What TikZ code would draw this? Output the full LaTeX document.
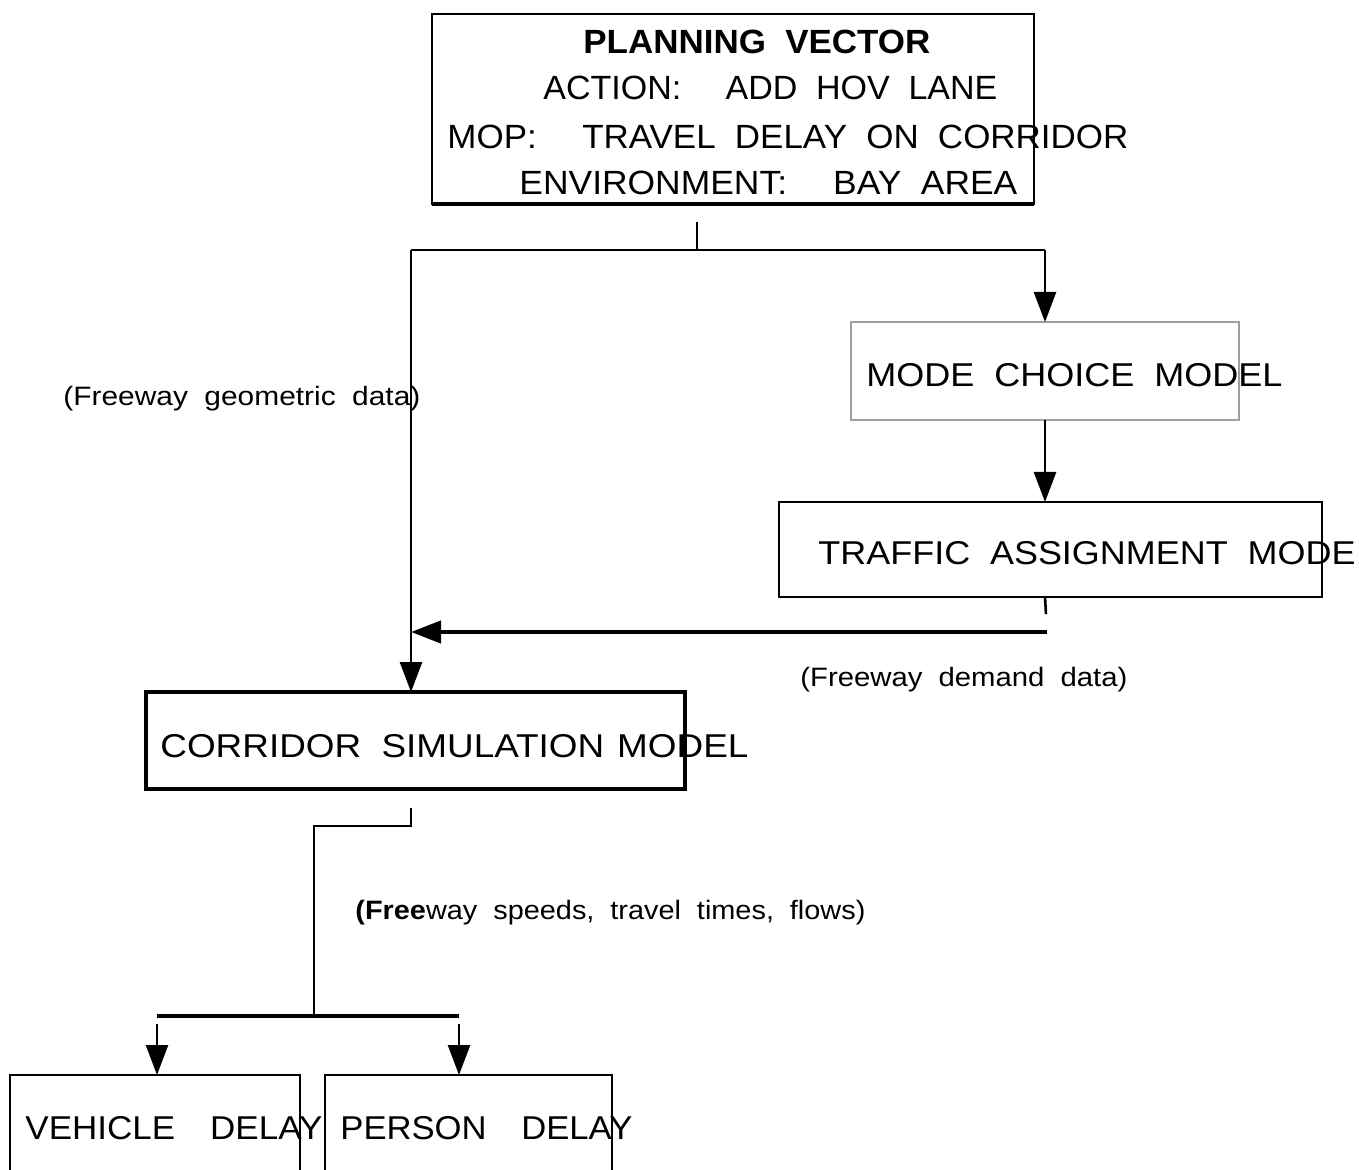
\documentclass[tikz,border=0pt]{standalone}
\usepackage{fontspec}
\setmainfont{Liberation Sans}
\usetikzlibrary{arrows.meta}
% word gaps and horizontal fitting of a label to a given width
\newcommand\wg{\hspace{0.55em}}
\newcommand\cg{\hspace{1.3em}}
\newcommand\fitw[2]{\resizebox{#1}{\height}{#2}}
\begin{document}
\begin{tikzpicture}[x=0.5pt,y=-0.5pt,
  box/.style={draw, line width=1pt, inner sep=0pt, outer sep=0pt},
  txt/.style={inner sep=0pt, anchor=west},
  big/.style={font=\fontsize{16.5}{18}\selectfont},
  lab/.style={font=\fontsize{13.3}{15}\selectfont},
  ln/.style={line width=1.3pt},
  bar/.style={line width=2.2pt},
  arr/.style={ln, -{Triangle[length=15pt,width=11pt]}},
  arrthick/.style={bar, -{Triangle[length=15pt,width=11pt]}}]
\fill[white] (0,0) rectangle (1359,1170);
\useasboundingbox (0,0) rectangle (1359,1170);

% boxes
\node[box, minimum width=301pt, minimum height=95pt] (pv) at (733,109) {};
\draw[bar] (pv.south west) -- (pv.south east);
\node[box, draw=gray!75, minimum width=194pt, minimum height=49pt] (mc) at (1045,371) {};
\node[box, minimum width=271.5pt, minimum height=47.5pt] (ta) at (1050.5,549.5) {};
\node[box, line width=1.8pt, minimum width=269.5pt, minimum height=48.5pt] (cs) at (415.5,740.5) {};
\node[box, minimum width=145pt, minimum height=55pt] (vd) at (155,1130) {};
\node[box, minimum width=143.5pt, minimum height=55pt] (pd) at (468.5,1130) {};

% texts
\node[txt, font=\fontsize{16.8}{18}\selectfont\bfseries] (t1) at (583,42) {\fitw{173.5pt}{PLANNING\wg VECTOR}};
\node[txt, font=\fontsize{16.8}{18}\selectfont] (t2) at (543,88) {\fitw{227pt}{ACTION:\cg ADD\wg HOV\wg LANE}};
\node[txt, font=\fontsize{16.8}{18}\selectfont] (t3) at (447,137) {\fitw{340.5pt}{MOP:\cg TRAVEL\wg DELAY\wg ON\wg CORRIDOR}};
\node[txt, font=\fontsize{16.8}{18}\selectfont] (t4) at (519,183) {\fitw{249pt}{ENVIRONMENT:\cg BAY\wg AREA}};
\node[txt, big] (t5) at (866,375) {\fitw{208pt}{MODE\wg CHOICE\wg MODEL}};
\node[txt, big] (t6) at (818,553) {\fitw{268.5pt}{TRAFFIC\wg ASSIGNMENT\wg MODE}};
\node[txt, big] (t7) at (160,746) {\fitw{294pt}{CORRIDOR\wg SIMULATION\hspace{0.35em}MODEL}};
\node[txt, big] (t8) at (25,1128) {\fitw{148.5pt}{VEHICLE\hspace{1em}DELAY}};
\node[txt, big] (t9) at (340,1128) {\fitw{146pt}{PERSON\hspace{1em}DELAY}};
\node[txt, lab] (l1) at (63,399) {\fitw{178.5pt}{(Freeway\wg geometric\wg data)}};
\node[txt, lab] (l2) at (800,680) {\fitw{163.5pt}{(Freeway\wg demand\wg data)}};
\node[txt, lab] (l3) at (355,913) {\fitw{255pt}{\textbf{(Free}way\wg speeds,\wg travel\wg times,\wg flows)}};

% junction points of the connectors
\coordinate (j1) at (697,250);
\coordinate (jl) at (411,250);
\coordinate (jr) at (1045,250);
\coordinate (td) at (1047,632);
\coordinate (jd) at (411,632);
\coordinate (k1) at (411,826);
\coordinate (k2) at (314,826);
\coordinate (k3) at (314,1016);
\coordinate (bl) at (157,1016);
\coordinate (br) at (459,1016);

% connectors
\draw[ln, shorten <=9pt] (pv.south -| j1) -- (j1);
\draw[ln] (jl) -- (jr);
\draw[arr] (jl) -- (jl |- cs.north);
\draw[arr] (jr) -- (mc.north);
\draw[arr] (mc.south) -- (mc.south |- ta.north);
\draw[ln, shorten >=9pt] (mc.south |- ta.south) -- (td);
\draw[arrthick] (td) -- (jd);
\draw[ln, shorten <=9.5pt] (cs.south -| k1) -- (k1) -- (k2) -- (k3);
\draw[bar] (bl) -- (br);
\draw[arr, shorten <=4pt] (bl) -- (bl |- vd.north);
\draw[arr, shorten <=4pt] (br) -- (br |- pd.north);
\end{tikzpicture}
\end{document}
